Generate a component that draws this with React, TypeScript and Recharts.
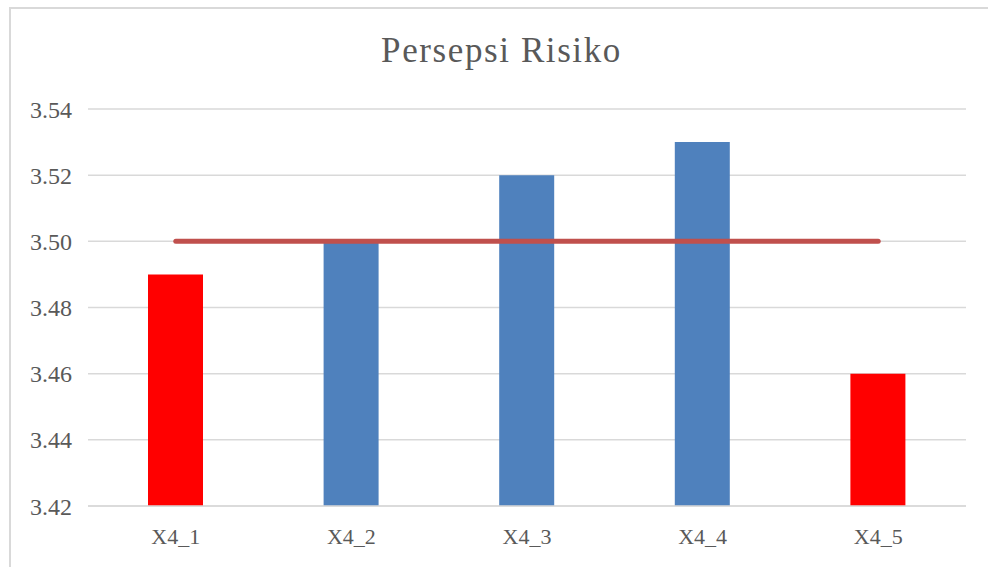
import React from 'react';
import { ComposedChart, Bar, Line, XAxis, YAxis, CartesianGrid, Cell } from 'recharts';

const categories = ['X4_1', 'X4_2', 'X4_3', 'X4_4', 'X4_5'];
const scores = [3.49, 3.5, 3.52, 3.53, 3.46];
const average = [3.5, 3.5, 3.5, 3.5, 3.5];
const barColors = ['#FF0000', '#4F81BD', '#4F81BD', '#4F81BD', '#FF0000'];
const yTicks = [3.42, 3.44, 3.46, 3.48, 3.5, 3.52, 3.54];
const title = 'Persepsi Risiko';

const data = categories.map((c, i) => ({ name: c, score: scores[i], avg: average[i] }));

const FONT = '"Liberation Serif", serif';
const TEXT = '#595959';

export default function App() {
  return (
    <div style={{ position: 'absolute', left: 0, top: 0, width: 988, height: 567, overflow: 'hidden', background: '#fff' }}>
      <div style={{ position: 'absolute', left: 9, top: 7, width: 1100, height: 700, border: '2px solid #d9d9d9', boxSizing: 'border-box' }} />
      <div style={{ position: 'absolute', left: 0, top: 31, width: 1003, textAlign: 'center', fontFamily: FONT, fontSize: 35, color: TEXT, letterSpacing: 1.6, lineHeight: '40px' }}>
        {title}
      </div>
      <div style={{ position: 'absolute', left: 0, top: 0 }}>
        <ComposedChart width={988} height={567} data={data} margin={{ top: 109, right: 22, bottom: 31, left: 0 }} barCategoryGap={0}>
          <CartesianGrid vertical={false} stroke="#d9d9d9" strokeWidth={1.5} />
          <XAxis
            dataKey="name"
            height={30}
            axisLine={{ stroke: '#d9d9d9', strokeWidth: 1.5 }}
            tickLine={false}
            tickSize={0}
            tickMargin={22}
            tick={{ fill: TEXT, fontFamily: FONT, fontSize: 22 }}
            interval={0}
          />
          <YAxis
            width={88}
            domain={[3.42, 3.54]}
            ticks={yTicks}
            allowDataOverflow
            axisLine={false}
            tickLine={false}
            tickSize={0}
            tickMargin={16}
            tickFormatter={(v: number) => v.toFixed(2)}
            tick={{ fill: TEXT, fontFamily: FONT, fontSize: 24 }}
          />
          <Bar dataKey="score" barSize={55} isAnimationActive={false}>
            {data.map((d, i) => (
              <Cell key={d.name} fill={barColors[i]} />
            ))}
          </Bar>
          <Line dataKey="avg" stroke="#C0504D" strokeWidth={5} strokeLinecap="round" dot={false} activeDot={false} isAnimationActive={false} />
        </ComposedChart>
      </div>
    </div>
  );
}
